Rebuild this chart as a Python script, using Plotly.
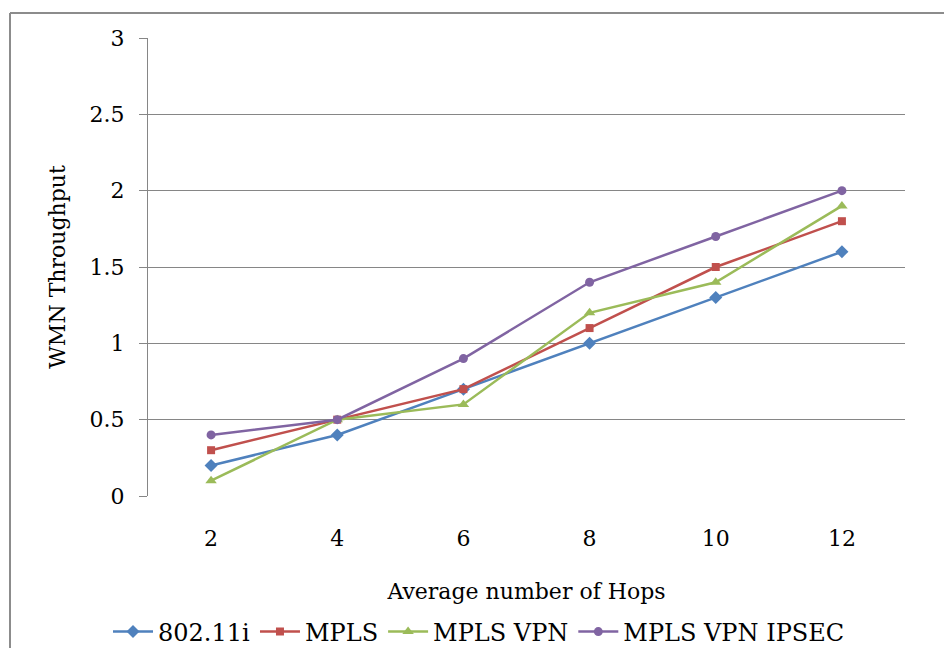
import plotly.graph_objects as go

hops = [2, 4, 6, 8, 10, 12]
s_80211i = [0.2, 0.4, 0.7, 1.0, 1.3, 1.6]
s_mpls = [0.3, 0.5, 0.7, 1.1, 1.5, 1.8]
s_mpls_vpn = [0.1, 0.5, 0.6, 1.2, 1.4, 1.9]
s_mpls_vpn_ipsec = [0.4, 0.5, 0.9, 1.4, 1.7, 2.0]
names = ["802.11i", "MPLS", "MPLS VPN", "MPLS VPN IPSEC"]
colors = ["#4F81BD", "#C0504D", "#9BBB59", "#8064A2"]
symbols = ["diamond", "square", "triangle-up", "circle"]
sizes = [10, 8, 10, 9]
y_ticks = [0, 0.5, 1, 1.5, 2, 2.5, 3]
y_tick_text = ["0", "0.5", "1", "1.5", "2", "2.5", "3"]

FONT = "DejaVu Serif"
GRID = "#868686"

fig = go.Figure()
for name, ys, c, sym, sz in zip(names, [s_80211i, s_mpls, s_mpls_vpn, s_mpls_vpn_ipsec], colors, symbols, sizes):
    fig.add_trace(go.Scatter(
        x=hops, y=ys, name=name, mode="lines+markers",
        line=dict(color=c, width=2.5),
        marker=dict(symbol=sym, size=sz, color=c),
    ))

W, H = 944, 648
L, R, T, B = 148, 39, 38, 152
pw, ph = W - L - R, H - T - B

def px(x):
    return (x - L) / pw

def py(y):
    return (H - B - y) / ph

fig.update_layout(
    width=W, height=H,
    margin=dict(l=L, r=R, t=T, b=B, pad=0, autoexpand=False),
    paper_bgcolor="white", plot_bgcolor="white",
    font=dict(family=FONT, size=22, color="black"),
    showlegend=True,
    legend=dict(orientation="h", x=px(479), xanchor="center", y=py(632), yanchor="middle",
                font=dict(family=FONT, size=24), itemwidth=40, tracegroupgap=0, bgcolor="rgba(0,0,0,0)"),
    xaxis=dict(range=[1, 13], tickvals=hops, ticktext=[str(h) for h in hops],
               showgrid=False, zeroline=False, showline=False, ticks="",
               ticklabelstandoff=27, tickfont=dict(family=FONT, size=22),
               title=dict(text="Average number of Hops", font=dict(family=FONT, size=22), standoff=33)),
    yaxis=dict(range=[0, 3], tickvals=y_ticks, ticktext=y_tick_text,
               showgrid=True, gridcolor=GRID, gridwidth=1.2, zeroline=False,
               showline=True, linecolor=GRID, linewidth=1.2,
               ticks="outside", ticklen=8, tickcolor=GRID, tickwidth=1.2,
               ticklabelstandoff=10, tickfont=dict(family=FONT, size=22),
               title=dict(text="WMN Throughput", font=dict(family=FONT, size=22), standoff=17)),
)

# outer chart border (top and left visible)
fig.add_shape(type="line", xref="paper", yref="paper", x0=px(10), x1=px(960), y0=py(13), y1=py(13),
              line=dict(color="#8C8C8C", width=2))
fig.add_shape(type="line", xref="paper", yref="paper", x0=px(10), x1=px(10), y0=py(13), y1=py(660),
              line=dict(color="#8C8C8C", width=2))

fig.write_html("out.html")
